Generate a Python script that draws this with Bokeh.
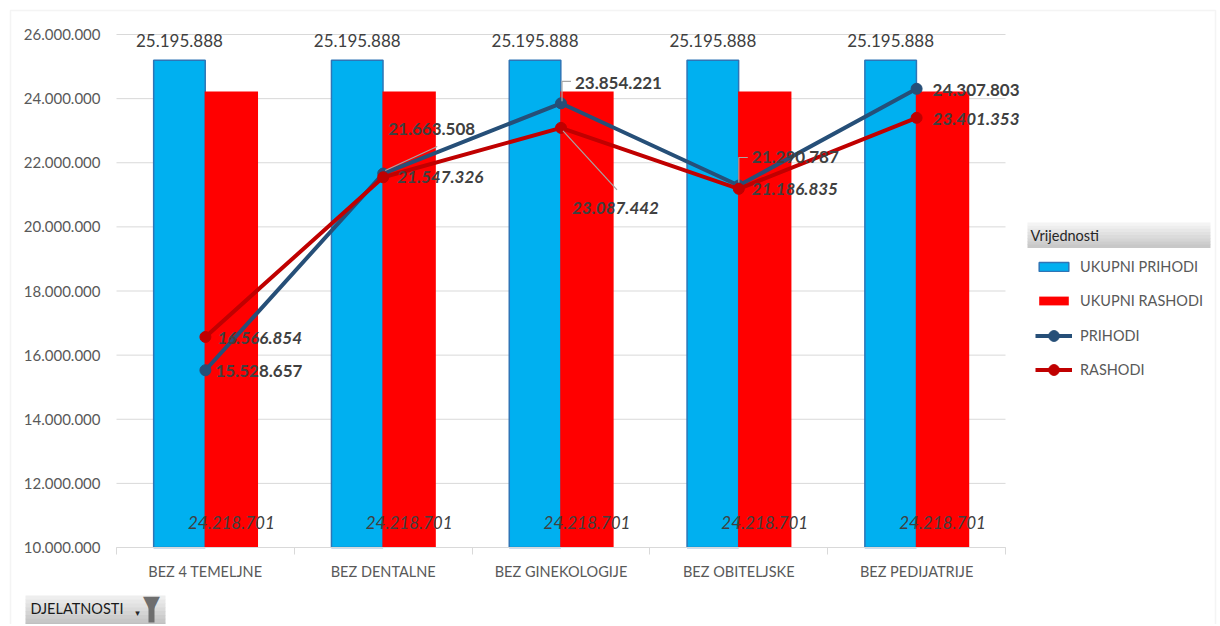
from bokeh.plotting import figure
from bokeh.models import (ColumnDataSource, FixedTicker, Legend, LegendItem,
                          BoxAnnotation, Label, Range1d)
from bokeh.core.properties import value
from bokeh.embed import file_html
from bokeh.resources import INLINE

# ---------------- data ----------------
categories = ["BEZ 4 TEMELJNE", "BEZ DENTALNE", "BEZ GINEKOLOGIJE",
              "BEZ OBITELJSKE", "BEZ PEDIJATRIJE"]
ukupni_prihodi = [25195888, 25195888, 25195888, 25195888, 25195888]
ukupni_rashodi = [24218701, 24218701, 24218701, 24218701, 24218701]
prihodi = [15528657, 21663508, 23854221, 21290787, 24307803]
rashodi = [16566854, 21547326, 23087442, 21186835, 23401353]
y_ticks = [10000000, 12000000, 14000000, 16000000, 18000000,
           20000000, 22000000, 24000000, 26000000]
legend_title = "Vrijednosti"
filter_button = "DJELATNOSTI"

# label placement (pixel offsets from the points)
prihodi_dx = [10, 5, 14, 13, 16]
prihodi_dy = [1, -45, -20, -28, 1]
rashodi_dx = [12, 14, 11, 13, 16]
rashodi_dy = [1, 0, 80, 0, 1]


def fmt(v):
    return f"{v:,}".replace(",", ".")


FONT = "Lato"
W, H = 1218, 624
# plot area in canvas pixels
PL, PR, PT, PB = 116, 1005, 34, 547
Y0, Y1 = y_ticks[0], y_ticks[-1]
N = len(categories)
PX_X = (PR - PL) / N
PX_Y = (PB - PT) / (Y1 - Y0)
OFF = 0.146
BW = 0.29

xs = list(range(N))

p = figure(width=W, height=H, title=None,
           x_range=Range1d(-0.5 - PL / PX_X, -0.5 + (W - PL) / PX_X),
           y_range=Range1d(Y1 - (H - PT) / PX_Y, Y1 + PT / PX_Y),
           output_backend="svg", toolbar_location=None,
           min_border=0, min_border_left=0, min_border_right=0,
           min_border_top=0, min_border_bottom=0)
p.outline_line_color = None
p.background_fill_color = "white"
p.border_fill_color = "white"
p.xgrid.grid_line_color = None
p.ygrid.grid_line_color = None

# grid lines across the category span
p.segment(x0=[-0.5] * len(y_ticks), x1=[N - 0.5] * len(y_ticks),
          y0=y_ticks, y1=y_ticks, line_color="#d9d9d9", line_width=1)

# axes (fixed inside the canvas)
ya = p.yaxis[0]
ya.fixed_location = -0.5
ya.bounds = (Y0, Y1)
ya.ticker = FixedTicker(ticks=y_ticks)
ya.major_label_overrides = {t: fmt(t) for t in y_ticks}
ya.axis_line_color = None
ya.major_tick_line_color = None
ya.minor_tick_line_color = None
ya.major_tick_out = 0
ya.major_tick_in = 0
ya.minor_tick_out = 0
ya.major_label_standoff = 16
ya.major_label_text_font = FONT
ya.major_label_text_font_size = "15px"
ya.major_label_text_color = "#595959"

xa = p.xaxis[0]
xa.fixed_location = Y0
xa.bounds = (-0.5, N - 0.5)
xa.ticker = FixedTicker(ticks=xs, minor_ticks=[i - 0.5 for i in range(N + 1)])
xa.major_label_overrides = {i: c for i, c in enumerate(categories)}
xa.axis_line_color = "#d9d9d9"
xa.major_tick_line_color = None
xa.major_tick_out = 0
xa.major_tick_in = 0
xa.minor_tick_line_color = "#d9d9d9"
xa.minor_tick_out = 7
xa.minor_tick_in = 0
xa.major_label_standoff = 8
xa.major_label_text_font = FONT
xa.major_label_text_font_size = "14.5px"
xa.major_label_text_color = "#595959"

# bars
src_bars = ColumnDataSource(dict(
    xb=[x - OFF for x in xs], xr=[x + OFF for x in xs],
    up=ukupni_prihodi, ur=ukupni_rashodi,
    up_t=[fmt(v) for v in ukupni_prihodi], ur_t=[fmt(v) for v in ukupni_rashodi],
    base=[Y0] * N))
r_blue = p.vbar(x="xb", top="up", bottom="base", width=BW, source=src_bars,
                fill_color="#00b0f0", line_color="#2e75b6", line_width=1.5)
r_red = p.vbar(x="xr", top="ur", bottom="base", width=BW + 0.01, source=src_bars,
               fill_color="#ff0000", line_color=None)

# lines
C_P = "#264f78"
C_R = "#c00000"
src_lines = ColumnDataSource(dict(x=xs, p=prihodi, r=rashodi,
                                  pt=[fmt(v) for v in prihodi],
                                  rt=[fmt(v) for v in rashodi],
                                  pdx=prihodi_dx, pdy=prihodi_dy,
                                  rdx=rashodi_dx, rdy=rashodi_dy))
l_p = p.line("x", "p", source=src_lines, line_color=C_P, line_width=4)
s_p = p.scatter("x", "p", source=src_lines, size=11, fill_color=C_P, line_color=C_P)
l_r = p.line("x", "r", source=src_lines, line_color=C_R, line_width=4)
s_r = p.scatter("x", "r", source=src_lines, size=11, fill_color=C_R, line_color=C_R)


# leader lines (pixel paths converted to data units, relative to the points)
def path(i, vals, pts):
    return ([xs[i] + dx / PX_X for dx, dy in pts],
            [vals[i] - dy / PX_Y for dx, dy in pts])


leaders = [path(1, prihodi, [(2, -3), (54, -27)]),
           path(2, prihodi, [(1, -2), (1, -22), (10, -22)]),
           path(3, prihodi, [(0, -3), (0, -28), (9, -28)]),
           path(2, rashodi, [(2, 3), (56, 62)])]
p.multi_line(xs=[a for a, b in leaders], ys=[b for a, b in leaders],
             line_color="#a6a6a6", line_width=1.2)

# data labels
LBL = dict(text_font=value(FONT), text_font_size="17px", text_color="#404040",
           text_baseline="middle")
p.text(x="xb", y="up", text="up_t", source=src_bars, y_offset=-20,
       text_align="center", **LBL)
p.text(x="xr", y="base", text="ur_t", source=src_bars, y_offset=-25,
       text_align="center", text_font_style="italic", **LBL)
p.text(x="x", y="p", text="pt", source=src_lines, x_offset="pdx", y_offset="pdy",
       text_align="left", text_font_style="bold", **LBL)
p.text(x="x", y="r", text="rt", source=src_lines, x_offset="rdx", y_offset="rdy",
       text_align="left", text_font_style="bold italic", **LBL)

# legend (bars and lines in two stacked blocks so each icon gets its own size)
LEG = dict(orientation="vertical", glyph_width=37, label_standoff=8,
           label_height=20, padding=0, margin=0, border_line_color=None,
           background_fill_alpha=0, label_text_font=FONT,
           label_text_font_size="14.5px", label_text_color="#595959")
legend_bars = Legend(items=[LegendItem(label="UKUPNI PRIHODI", renderers=[r_blue]),
                            LegendItem(label="UKUPNI RASHODI", renderers=[r_red])],
                     location=(1035, H - 310.5), glyph_height=11, spacing=14, **LEG)
legend_lines = Legend(items=[LegendItem(label="PRIHODI", renderers=[l_p, s_p]),
                             LegendItem(label="RASHODI", renderers=[l_r, s_r])],
                      location=(1035, H - 382.5), glyph_height=27, spacing=7, **LEG)
p.add_layout(legend_bars)
p.add_layout(legend_lines)


def cbox(left, right, top, bottom, **kw):
    return BoxAnnotation(left=left, right=right, top=top, bottom=bottom,
                         left_units="canvas", right_units="canvas",
                         top_units="canvas", bottom_units="canvas",
                         level="overlay", **kw)


def clabel(x, y, text, **kw):
    return Label(x=x, y=y, x_units="canvas", y_units="canvas", text=text,
                 text_baseline="middle", level="overlay", **kw)


def gradient(left, right, top, bottom, c_top, c_bot, n=8):
    h = (bottom - top) / n
    for i in range(n):
        t = i / (n - 1)
        c = tuple(int(round(a + (b - a) * t)) for a, b in zip(c_top, c_bot))
        p.add_layout(cbox(left, right, top + i * h, top + (i + 1) * h + 0.5,
                          fill_color="#%02x%02x%02x" % c, fill_alpha=1,
                          line_color=None))


# legend header
gradient(1027, 1210, 222, 247, (244, 244, 244), (200, 200, 200))
p.add_layout(clabel(1030, 234.5, legend_title, text_font=FONT,
                    text_font_size="14.5px", text_color="#262626"))

# filter button
gradient(25, 165, 595, 626, (238, 238, 238), (192, 192, 192))
p.add_layout(clabel(30, 608, filter_button, text_font=FONT,
                    text_font_size="14.5px", text_color="#1a1a1a"))
p.add_layout(clabel(137, 612, "▾", text_align="center", text_font="DejaVu Sans",
                    text_font_size="9px", text_color="#262626"))
p.add_layout(cbox(148, 154, 606, 622, fill_color="#6e6e6e", fill_alpha=1,
                  line_color=None))
p.add_layout(clabel(151, 603, "▼", text_align="center", text_font="DejaVu Sans",
                    text_font_size="22px", text_color="#6e6e6e"))

# outer chart border
p.add_layout(cbox(10, 1215, 10, H + 10, fill_alpha=0, line_color="#d9d9d9",
                  line_width=1.5))

open("out.html", "w").write(file_html(p, INLINE))
